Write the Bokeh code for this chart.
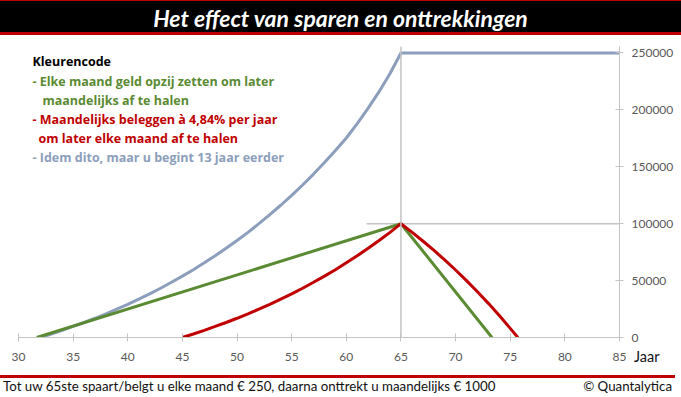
from bokeh.plotting import figure
from bokeh.models import Range1d, FixedTicker, NumeralTickFormatter, Label, Span, Div
from bokeh.layouts import column
from bokeh.embed import file_html
from bokeh.resources import INLINE

# ---------------- data ----------------
title_text = "Het effect van sparen en onttrekkingen"
footer_left = "Tot uw 65ste spaart/belgt u elke maand € 250, daarna onttrekt u maandelijks € 1000"
footer_right = "© Quantalytica"
x_axis_title = "Jaar"

legend_title = "Kleurencode"
legend_green = ["- Elke maand geld opzij zetten om later", "maandelijks af te halen"]
legend_red = ["- Maandelijks beleggen à 4,84% per jaar", "om later elke maand af te halen"]
legend_blue = ["- Idem dito, maar u begint 13 jaar eerder"]

x_ticks = [30, 35, 40, 45, 50, 55, 60, 65, 70, 75, 80, 85]
y_ticks = [0, 50000, 100000, 150000, 200000, 250000]

# green: save in a jar, then withdraw
green_years = [31.67, 65, 73.33]
green_values = [0, 100000, 0]

# red: invest from 45, withdraw after 65
red_years = [45, 46, 47, 48, 49, 50, 51, 52, 53, 54, 55, 56, 57, 58, 59, 60, 61, 62, 63, 64, 65,
             66, 67, 68, 69, 70, 71, 72, 73, 74, 75, 75.7]
red_values = [0, 3100, 6300, 9700, 13200, 16900, 20800, 24900, 29200, 33700, 38400, 43300, 48500,
              53900, 59600, 65600, 71800, 78400, 85200, 92400, 100000,
              92600, 84800, 76700, 68200, 59300, 50000, 40200, 30000, 19300, 8000, 0]

# blue: same but 13 years earlier
blue_years = [32, 33, 34, 35, 36, 37, 38, 39, 40, 41, 42, 43, 44, 45, 46, 47, 48, 49, 50, 51, 52,
              53, 54, 55, 56, 57, 58, 59, 60, 61, 62, 63, 64, 65, 85]
blue_values = [0, 3100, 6300, 9700, 13200, 16900, 20800, 24900, 29200, 33700, 38400, 43300, 48500,
               53900, 59600, 65600, 71800, 78400, 85300, 92400, 100000, 107900, 116200, 124900,
               134000, 143600, 153700, 164300, 175300, 188000, 201500, 216000, 232000, 250000, 250000]

ref_vline_x = 65
ref_h_years = [61.85, 85]
ref_h_values = [100000, 100000]

# ---------------- style ----------------
GREEN = "#5A8A32"
RED = "#C00000"
BLUE = "#8C9EBB"
GRAY = "#C4C4C4"
FONT = "Lato"
LEG_FONT = "Open Sans"

W = 681
FIG_H = 336
X0, X1 = 30, 85
Y_MAX = 255700
FR_LEFT, FR_RIGHT = 18, 619
FR_TOP, FR_BOTTOM = 7, 298  # within figure canvas

p = figure(width=W, height=FIG_H, x_range=Range1d(X0, X1), y_range=Range1d(0, Y_MAX),
           output_backend="svg", toolbar_location=None, y_axis_location="right",
           min_border_left=FR_LEFT, min_border_right=W - FR_RIGHT,
           min_border_top=FR_TOP, min_border_bottom=FIG_H - FR_BOTTOM)
p.outline_line_color = None
p.grid.visible = False
p.background_fill_color = "white"
p.border_fill_color = "white"


def px2x(px):
    return X0 + (px - FR_LEFT) * (X1 - X0) / (FR_RIGHT - FR_LEFT)


def py2y(py):
    # py measured in page pixels; figure starts at page y=39
    fy = py - 39
    return (FR_BOTTOM - fy) * Y_MAX / (FR_BOTTOM - FR_TOP)


for ax in (p.xaxis[0], p.yaxis[0]):
    ax.axis_line_color = GRAY
    ax.major_tick_line_color = GRAY
    ax.minor_tick_line_color = None
    ax.major_tick_in = 4
    ax.major_tick_out = 4
    ax.major_label_text_color = "#595959"
    ax.major_label_text_font = FONT
    ax.major_label_text_font_size = "12px"

p.xaxis.ticker = FixedTicker(ticks=x_ticks)
p.yaxis.ticker = FixedTicker(ticks=y_ticks)
p.yaxis.formatter = NumeralTickFormatter(format="0")
p.xaxis.major_label_standoff = 11
p.yaxis.major_label_standoff = 8

# reference lines
p.add_layout(Span(location=ref_vline_x, dimension="height", line_color=GRAY, line_width=1.5))
p.line(ref_h_years, ref_h_values, line_color=GRAY, line_width=1.5)

# series
p.line(blue_years, blue_values, line_color=BLUE, line_width=3)
p.line(green_years, green_values, line_color=GREEN, line_width=3)
p.line(red_years, red_values, line_color=RED, line_width=3)

# colour code text
legend_items = [
    (legend_title, "#000000", 32, 61),
    (legend_green[0], GREEN, 32, 81),
    (legend_green[1], GREEN, 42, 100),
    (legend_red[0], RED, 32, 119),
    (legend_red[1], RED, 38, 138),
    (legend_blue[0], BLUE, 32, 157),
]
for txt, col, lx, ly in legend_items:
    p.add_layout(Label(x=px2x(lx), y=py2y(ly), text=txt, text_align="left",
                       text_baseline="middle", text_font=LEG_FONT, text_font_style="bold",
                       text_font_size="12.5px", text_color=col))

header = Div(text=(
    '<div style="width:681px;height:35px;background:#000;border-top:1px solid #C00000;'
    'border-bottom:3px solid #C00000;color:#fff;font-family:Lato;font-style:italic;'
    'font-weight:bold;font-size:23px;text-align:center;line-height:35px;">'
    + title_text + '</div>'), width=W, height=39, margin=(0, 0, 0, 0))

# footer overlaps the bottom 30px of the figure (transparent) so that the
# x-axis title "Jaar" can sit next to the last tick label
footer = Div(text=(
    '<div style="position:relative;width:681px;height:52px;font-family:Lato;color:#111;">'
    '<span style="position:absolute;left:634px;top:3px;font-size:14.5px;line-height:18px;">'
    + x_axis_title + '</span>'
    '<div style="position:absolute;left:0;top:30px;width:675px;height:19px;'
    'border-top:3px solid #C00000;padding:0 3px;display:flex;'
    'justify-content:space-between;align-items:center;font-size:13.3px;">'
    '<span>' + footer_left + '</span><span>' + footer_right + '</span></div></div>'),
    width=W, height=52, margin=(-30, 0, 0, 0))

layout = column(header, p, footer, spacing=0)

open("out.html", "w").write(file_html(layout, INLINE))
